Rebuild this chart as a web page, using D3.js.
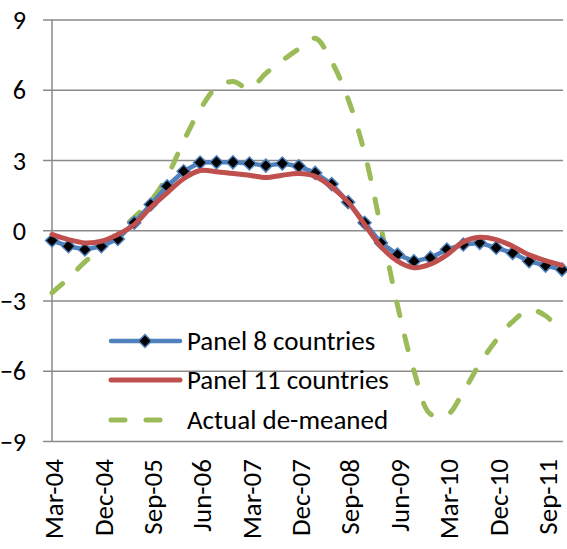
<!DOCTYPE html>
<html>
<head>
<meta charset="utf-8">
<script src="https://cdn.jsdelivr.net/npm/d3@7"></script>
<style>
  html, body { margin: 0; padding: 0; background: #fff; }
  svg text { font-family: Calibri, Carlito, Lato, sans-serif; fill: #000; }
</style>
</head>
<body>
<div id="chart"></div>
<script>
// quarterly categories
const quarters = [
  "Mar-04", "Jun-04", "Sep-04", "Dec-04",
  "Mar-05", "Jun-05", "Sep-05", "Dec-05",
  "Mar-06", "Jun-06", "Sep-06", "Dec-06",
  "Mar-07", "Jun-07", "Sep-07", "Dec-07",
  "Mar-08", "Jun-08", "Sep-08", "Dec-08",
  "Mar-09", "Jun-09", "Sep-09", "Dec-09",
  "Mar-10", "Jun-10", "Sep-10", "Dec-10",
  "Mar-11", "Jun-11", "Sep-11", "Dec-11"
];
const xTickLabels = ["Mar-04", "Dec-04", "Sep-05", "Jun-06", "Mar-07", "Dec-07",
  "Sep-08", "Jun-09", "Mar-10", "Dec-10", "Sep-11"];
const yTicks = [-9, -6, -3, 0, 3, 6, 9];

const panel8 = [-0.44, -0.68, -0.82, -0.68, -0.37, 0.32, 1.1, 1.88,
  2.52, 2.89, 2.9, 2.9, 2.85, 2.76, 2.85, 2.73,
  2.45, 1.97, 1.2, 0.32, -0.54, -1.04, -1.32, -1.18,
  -0.82, -0.61, -0.54, -0.75, -0.97, -1.32, -1.51, -1.68];
const panel11 = [-0.18, -0.4, -0.54, -0.47, -0.18, 0.24, 0.97, 1.6,
  2.2, 2.55, 2.5, 2.42, 2.35, 2.25, 2.35, 2.42,
  2.3, 1.85, 1.2, 0.25, -0.7, -1.32, -1.6, -1.45,
  -1.05, -0.5, -0.3, -0.4, -0.68, -1.05, -1.3, -1.5];
const actual = [-2.67, -2.05, -1.35, -0.75, -0.1, 0.55, 1.25, 2.3,
  3.8, 5.15, 6.1, 6.35, 6.05, 6.7, 7.25, 7.75,
  8.2, 7.2, 5.6, 3.3, 0.1, -3.2, -6.0, -7.85,
  -7.9, -6.9, -5.7, -4.7, -3.9, -3.4, -3.65, -4.4];

const seriesNames = ["Panel 8 countries", "Panel 11 countries", "Actual de-meaned"];

const W = 567, H = 549;
const plotLeft = 52, plotRight = 562, plotTop = 19.5, plotBottom = 441;

const svg = d3.select("#chart")
  .append("svg")
  .attr("width", W)
  .attr("height", H);

// fit font size to the legend text width seen in the reference
const probe = svg.append("text").attr("font-size", 100).text(seriesNames[0]);
const fs = Math.min(27, 100 * 191 / probe.node().getComputedTextLength());
probe.remove();

const x = d3.scalePoint().domain(quarters).range([plotLeft, plotRight]);
const y = d3.scaleLinear().domain([-9, 9]).range([plotBottom, plotTop]);

const gridColor = "#8a8a8a";

// horizontal gridlines + y labels
const yAxis = d3.axisLeft(y)
  .tickValues(yTicks)
  .tickSize(-(563 - 43))
  .tickPadding(0)
  .tickFormat(d3.format("d"));

const gy = svg.append("g")
  .attr("transform", `translate(43,0)`)
  .call(yAxis);
gy.select(".domain").remove();
gy.selectAll(".tick line")
  .attr("stroke", gridColor)
  .attr("stroke-width", 1.5);
gy.selectAll(".tick text")
  .attr("x", -17)
  .attr("dy", "0.35em")
  .attr("font-size", fs * 0.97)
  .style("font-family", null);

// vertical axis line
svg.append("line")
  .attr("x1", plotLeft).attr("x2", plotLeft)
  .attr("y1", plotTop).attr("y2", plotBottom)
  .attr("stroke", gridColor)
  .attr("stroke-width", 1.5);

// category labels
const xAxis = d3.axisBottom(x)
  .tickValues(xTickLabels)
  .tickSize(0);
const gx = svg.append("g")
  .attr("transform", `translate(0,${plotBottom})`)
  .call(xAxis);
gx.select(".domain").remove();
gx.selectAll(".tick text")
  .attr("font-size", fs)
  .attr("text-anchor", "end")
  .attr("transform", "translate(0,18) rotate(-90)")
  .attr("x", 0)
  .attr("y", 0)
  .attr("dy", "0.4em")
  .style("font-family", null);

const lineStraight = d3.line()
  .x((d, i) => x(quarters[i]))
  .y(d => y(d));
const lineSmooth = d3.line()
  .x((d, i) => x(quarters[i]))
  .y(d => y(d))
  .curve(d3.curveCatmullRom.alpha(0.5));

const blue = "#4F81BD", red = "#C0504D", green = "#9BBB59";
const diamond = "M0,-6.5L6.5,0L0,6.5L-6.5,0Z";

// actual (dashed green)
svg.append("path")
  .datum(actual)
  .attr("fill", "none")
  .attr("stroke", green)
  .attr("stroke-width", 5)
  .attr("stroke-linecap", "round")
  .attr("stroke-dasharray", "14 21")
  .attr("d", lineSmooth);

// panel 8 (blue with diamonds)
svg.append("path")
  .datum(panel8)
  .attr("fill", "none")
  .attr("stroke", blue)
  .attr("stroke-width", 4.5)
  .attr("stroke-linejoin", "round")
  .attr("d", lineStraight);

svg.append("g")
  .selectAll("path")
  .data(panel8)
  .join("path")
  .attr("transform", (d, i) => `translate(${x(quarters[i])},${y(d)})`)
  .attr("d", diamond)
  .attr("fill", "#000")
  .attr("stroke", blue)
  .attr("stroke-width", 1.5);

// panel 11 (red smooth)
svg.append("path")
  .datum(panel11)
  .attr("fill", "none")
  .attr("stroke", red)
  .attr("stroke-width", 5)
  .attr("stroke-linecap", "round")
  .attr("d", lineSmooth);

// legend
const legendRows = [341, 380, 420];
const legend = svg.append("g");
seriesNames.forEach((name, i) => {
  const g = legend.append("g").attr("transform", `translate(0,${legendRows[i]})`);
  const ln = g.append("line")
    .attr("x1", 111).attr("x2", 180)
    .attr("y1", 0).attr("y2", 0)
    .attr("stroke-width", i === 0 ? 4.5 : 5)
    .attr("stroke-linecap", "round");
  if (i === 0) {
    ln.attr("stroke", blue);
    g.append("path").attr("transform", "translate(145,0)").attr("d", diamond)
      .attr("fill", "#000").attr("stroke", blue).attr("stroke-width", 1.5);
  } else if (i === 1) {
    ln.attr("stroke", red);
  } else {
    ln.attr("stroke", green).attr("stroke-dasharray", "14 21");
  }
  g.append("text")
    .attr("x", 187)
    .attr("dy", "0.35em")
    .attr("font-size", fs)
    .text(name);
});
</script>
</body>
</html>
